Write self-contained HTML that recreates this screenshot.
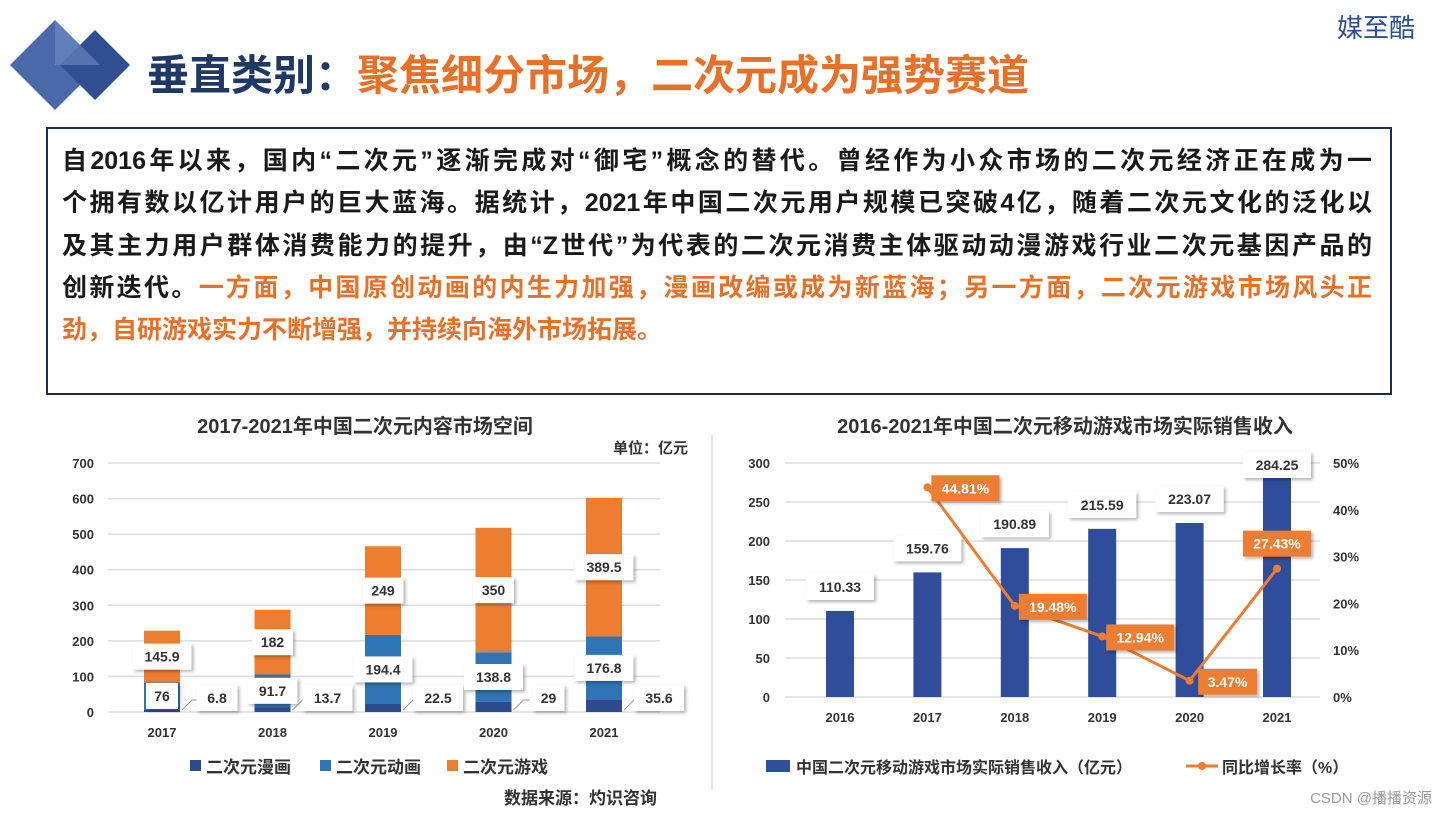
<!DOCTYPE html>
<html><head><meta charset="utf-8"><style>
body{margin:0;background:#fff;width:1440px;height:814px;overflow:hidden;position:relative;font-family:"Liberation Sans","Noto Sans CJK SC",sans-serif}
.box{position:absolute;left:46px;top:127px;width:1346px;height:268px;border:2px solid #1f2d4d;box-sizing:border-box;padding:11px 18px 0 14px}
.ln{font-size:25px;font-weight:bold;color:#1a1a1a;height:42.3px;line-height:42.3px;text-align:justify;text-align-last:justify;white-space:nowrap}
.ln.last{text-align-last:left}
.o{color:#e8712a}
</style></head><body>
<svg width="140" height="110" style="position:absolute;left:0;top:15px">
<polygon points="55,5 100,50 55,95 10,50" fill="#4a69a8"/>
<polygon points="95,15 130,50 95,85 60,50" fill="#2f4f8f"/>
<polygon points="55,5 100,50 55,50" fill="#6f8cc4" opacity="0.6"/>
</svg>
<div style="position:absolute;left:147px;top:42px;font-size:42px;font-weight:bold;color:#1f3864;white-space:nowrap">垂直类别：<span style="color:#e8712a">聚焦细分市场，二次元成为强势赛道</span></div>
<div style="position:absolute;left:1337px;top:8px;font-size:26px;color:#2f4f8f">媒至酷</div>
<div class="box">
<div class="ln">自2016年以来，国内“二次元”逐渐完成对“御宅”概念的替代。曾经作为小众市场的二次元经济正在成为一</div>
<div class="ln">个拥有数以亿计用户的巨大蓝海。据统计，2021年中国二次元用户规模已突破4亿，随着二次元文化的泛化以</div>
<div class="ln">及其主力用户群体消费能力的提升，由“Z世代”为代表的二次元消费主体驱动动漫游戏行业二次元基因产品的</div>
<div class="ln">创新迭代。<span class="o">一方面，中国原创动画的内生力加强，漫画改编或成为新蓝海；另一方面，二次元游戏市场风头正</span></div>
<div class="ln last"><span class="o">劲，自研游戏实力不断增强，并持续向海外市场拓展。</span></div>
</div>
<svg id="c" width="1440" height="814" style="position:absolute;left:0;top:0" font-family="Liberation Sans, Noto Sans CJK SC, sans-serif"></svg>
<script>
const years1=['2017','2018','2019','2020','2021'];
const manga=[6.8,13.7,22.5,29,35.6];
const anime=[76,91.7,194.4,138.8,176.8];
const game=[145.9,182,249,350,389.5];
const ticks1=[0,100,200,300,400,500,600,700];
const years2=['2016','2017','2018','2019','2020','2021'];
const revenue=[110.33,159.76,190.89,215.59,223.07,284.25];
const growth=[null,44.81,19.48,12.94,3.47,27.43];
const ticks2=[0,50,100,150,200,250,300];
const ticksPct=[0,10,20,30,40,50];

const svg=document.getElementById('c');const NS='http://www.w3.org/2000/svg';
function mk(t,a,p){const e=document.createElementNS(NS,t);for(const k in a)e.setAttribute(k,a[k]);(p||svg).appendChild(e);return e;}
function tx(x,y,s,o){const e=mk('text',Object.assign({x:x,y:y,'font-size':14,'font-weight':'bold',fill:'#333','text-anchor':'middle'},o||{}));e.textContent=s;return e;}
const defs=mk('defs',{});const f=mk('filter',{id:'sh',x:'-20%',y:'-20%',width:'150%',height:'160%'},defs);
mk('feDropShadow',{dx:2,dy:2,stdDeviation:1.5,'flood-color':'#000','flood-opacity':0.3},f);
function lbl(cx,cy,s,orange){const w=s.length*9+14;
 const r=mk('rect',{x:cx-w/2,y:cy-13,width:w,height:26,fill:orange?'#ed7d31':'#fff',filter:'url(#sh)'});
 
 const t=tx(cx,cy+5,s,{fill:orange?'#fff':'#333','font-size':14});
 }

let t;
t=tx(365,433,'2017-2021年中国二次元内容市场空间',{'font-size':20});
t=tx(1065,433,'2016-2021年中国二次元移动游戏市场实际销售收入',{'font-size':20});
t=tx(688,453,'单位：亿元',{'text-anchor':'end','font-size':15});
mk('line',{x1:712,y1:435,x2:712,y2:790,stroke:'#ccc','stroke-width':1});

const y1=v=>712-v*249/700;const x1=i=>162+i*110.5;const bw=36;
ticks1.forEach(v=>{mk('line',{x1:108,x2:660,y1:y1(v),y2:y1(v),stroke:'#ddd','stroke-width':1.5});
 const e=tx(94,y1(v)+5,String(v),{'text-anchor':'end','font-size':13});});
years1.forEach((yr,i)=>{const x=x1(i)-bw/2;
 const m=manga[i],a=anime[i],g=game[i];
 let r=mk('rect',{x:x,y:y1(m),width:bw,height:y1(0)-y1(m),fill:'#2e4a8f'});
 r=mk('rect',{x:x,y:y1(m+a),width:bw,height:y1(m)-y1(m+a),fill:'#2f75b5'});
 r=mk('rect',{x:x,y:y1(m+a+g),width:bw,height:y1(m+a)-y1(m+a+g),fill:'#ed7d31'});
 lbl(x1(i),(y1(m+a)+y1(m+a+g))/2,String(g));
 lbl(x1(i),Math.min(y1(m+a/2),y1(0)-16),String(a));
 mk('polyline',{points:`${x1(i)+20},${y1(0)-2} ${x1(i)+30},${y1(0)-12} ${x1(i)+36},${y1(0)-12}`,fill:'none',stroke:'#999'});
 lbl(x1(i)+55,y1(0)-14,String(m));
 const e=tx(x1(i),737,yr,{'font-size':13});});
[['二次元漫画','#2e4a8f',190],['二次元动画','#2f75b5',320],['二次元游戏','#ed7d31',447]].forEach(([n,c,x])=>{
 const r=mk('rect',{x:x,y:760,width:11,height:11,fill:c});
 const e=tx(x+16,773,n,{'text-anchor':'start','font-size':17});});
t=tx(657,804,'数据来源：灼识咨询',{'text-anchor':'end','font-size':17});

const y2=v=>697-v*234/300;const yp=p=>697-p*234/50;const x2=i=>840+i*87.4;const bw2=28;
ticks2.forEach(v=>{mk('line',{x1:785,x2:1320,y1:y2(v),y2:y2(v),stroke:'#ddd','stroke-width':1.5});
 const e=tx(770,y2(v)+5,String(v),{'text-anchor':'end','font-size':13});});
ticksPct.forEach(p=>{const e=tx(1333,yp(p)+5,p+'%',{'text-anchor':'start','font-size':13});});
years2.forEach((yr,i)=>{const v=revenue[i];
 const r=mk('rect',{x:x2(i)-bw2/2,y:y2(v),width:bw2,height:y2(0)-y2(v),fill:'#2f4d9a'});
 lbl(x2(i),y2(v)-24<465?465:y2(v)-24,v.toFixed(2));
 const e=tx(x2(i),722,yr,{'font-size':13});});
let pts=[];growth.forEach((g,i)=>{if(g!==null)pts.push(x2(i)+','+yp(g));});
const pl=mk('polyline',{points:pts.join(' '),fill:'none',stroke:'#ed7d31','stroke-width':3});
growth.forEach((g,i)=>{if(g===null)return;
 const c=mk('circle',{cx:x2(i),cy:yp(g),r:4,fill:'#ed7d31'});
 if(i===5)lbl(x2(i),yp(g)-25,g.toFixed(2)+'%',true);else lbl(x2(i)+38,yp(g)+1,g.toFixed(2)+'%',true);});
let r=mk('rect',{x:766,y:760,width:24,height:12,fill:'#2f4d9a'});
t=tx(796,773,'中国二次元移动游戏市场实际销售收入（亿元）',{'text-anchor':'start','font-size':16});
mk('line',{x1:1186,x2:1218,y1:766,y2:766,stroke:'#ed7d31','stroke-width':3});mk('circle',{cx:1202,cy:766,r:4,fill:'#ed7d31'});
t=tx(1222,773,'同比增长率（%）',{'text-anchor':'start','font-size':16});
t=tx(1432,803,'CSDN @播播资源',{'text-anchor':'end','font-size':15,fill:'#999','font-weight':'normal'});
</script>
</body></html>
